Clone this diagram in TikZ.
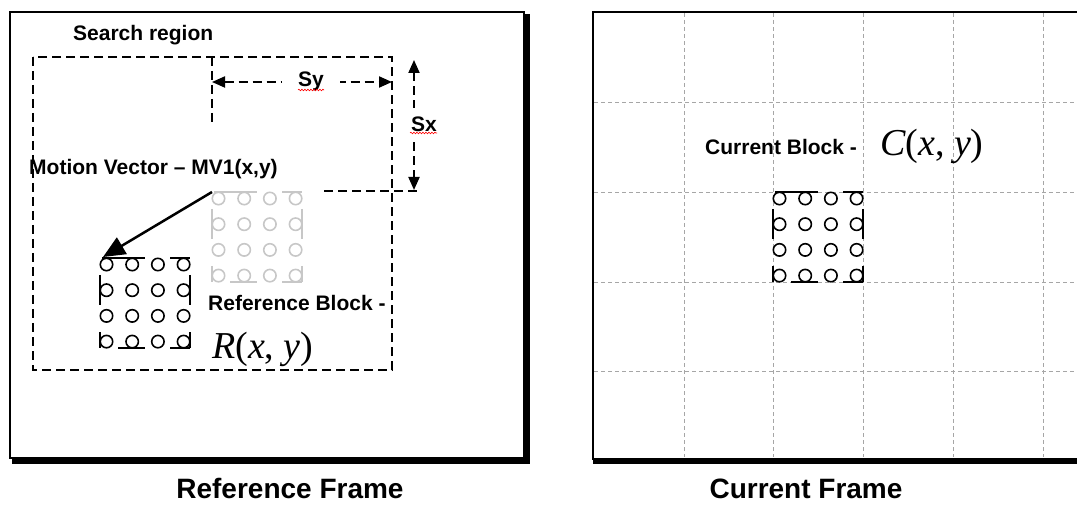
\documentclass[tikz,border=0pt]{standalone}
\usepackage{fontspec}
\setmainfont{Liberation Sans}
\newfontfamily\timesfont{Liberation Serif}
\usetikzlibrary{arrows.meta, positioning, decorations.pathmorphing}
\tikzstyle{framebox}=[line width=2pt]
\tikzstyle{shadowline}=[line width=6pt]
\tikzstyle{regionline}=[line width=2pt, dash pattern=on 9pt off 5pt]
\tikzstyle{gridline}=[draw=black!35, line width=0.7pt, dash pattern=on 4pt off 3pt]
\tikzstyle{lbl}=[inner sep=0pt, font=\bfseries\fontsize{21}{24}\selectfont]
\tikzstyle{caption}=[inner sep=0pt, font=\bfseries\fontsize{28}{32}\selectfont]
\tikzstyle{mathlbl}=[inner sep=0pt, font=\timesfont\fontsize{38}{40}\selectfont]
\tikzstyle{sizearrow}=[regionline, {Triangle[length=13pt,width=11pt]}-{Triangle[length=13pt,width=11pt]}]
\tikzstyle{mvarrow}=[line width=2.5pt, -{Triangle[length=22pt,width=19pt]}]
\tikzstyle{spell}=[draw=red, line width=0.6pt, decorate, decoration={snake, amplitude=0.8pt, segment length=3pt}]

% 4x4 pixel block, #1 = top left corner, #2 = colour
\newcommand{\pixblock}[2]{%
  \begin{scope}[shift={(#1)}, color=#2, line width=1.6pt]
    \foreach \i in {0,...,3}
      \foreach \j in {0,...,3}
        \draw ({6.5+25.7*\i},{6.5+25.7*\j}) circle[radius=6.2pt];
    \draw (2,0) -- (45,0) (70,0) -- (90,0);
    \draw (18,90) -- (45,90) (70,90) -- (90,90);
    \draw (0,17) -- (0,47) (0,74) -- (0,90);
    \draw (90,17) -- (90,47) (90,74) -- (90,90);
  \end{scope}}

\begin{document}
\begin{tikzpicture}[x=1pt, y=-1pt]
\useasboundingbox (0,0) rectangle (1077,505);
\clip (0,0) rectangle (1077,505);

% reference frame
\draw[framebox] (10,12) rectangle (524,458);
\draw[shadowline] (527,14) -- (527,461) -- (12,461);

\coordinate (srNW) at (33,57);
\coordinate (srSE) at (392,370);
\draw[regionline] (srNW) rectangle (srSE);
\node[lbl, anchor=base west] (srch) at (73,41) {Search region};

\coordinate (syL) at (212,82);
\coordinate (syR) at (392,82);
\coordinate (syTop) at (212,57);
\coordinate (syBot) at (212,125);
\draw[regionline] (syTop) -- (syBot);
\draw[sizearrow] (syL) -- (syR);
\node[lbl, fill=white, inner xsep=16pt, inner ysep=3pt] (sy) at (311,81) {Sy};
\draw[spell] (298,90) -- (324,90);

\coordinate (sxT) at (414,60);
\coordinate (sxB) at (414,190);
\coordinate (sxL) at (324,191);
\coordinate (sxR) at (418,191);
\draw[regionline] (sxL) -- (sxR);
\draw[sizearrow] (sxT) -- (sxB);
\node[lbl, fill=white, inner xsep=2pt, inner ysep=9pt] (sx) at (424,124) {Sx};
\draw[spell] (410,133) -- (437,133);

\node[lbl, anchor=base west] (mv) at (29,175) {Motion Vector -- MV1(x,y)};

% blocks
\coordinate (ghost) at (212,192);
\coordinate (refblk) at (100,258);
\coordinate (mvend) at (103,257);
\pixblock{ghost}{black!22}
\pixblock{refblk}{black}
\draw[mvarrow] (ghost) -- (mvend);

\node[lbl, anchor=base west] (rb) at (208,310) {Reference Block -};
\node[mathlbl, anchor=base west] (rxy) at (212,358) {\itshape R\upshape(\itshape x\upshape, \itshape y\upshape)};
\node[caption, anchor=base] (rf) at (290,498) {Reference Frame};

% current frame
\foreach \gx in {684,773,863,953,1043}
  \draw[gridline] (\gx,13) -- (\gx,457);
\foreach \gy in {102,192,282,371}
  \draw[gridline] (594,\gy) -- (1077,\gy);
\draw[framebox] (1090,12) -- (593,12) -- (593,460);
\draw[shadowline] (593,461) -- (1090,461);

\coordinate (curblk) at (773,192);
\pixblock{curblk}{black}
\node[lbl, anchor=base west] (cb) at (705,155) {Current Block -};
\node[mathlbl, anchor=base west] (cxy) at (880,156) {\itshape C\upshape(\itshape x\upshape, \itshape y\upshape)};
\node[caption, anchor=base] (cf) at (806,498) {Current Frame};

\end{tikzpicture}
\end{document}
